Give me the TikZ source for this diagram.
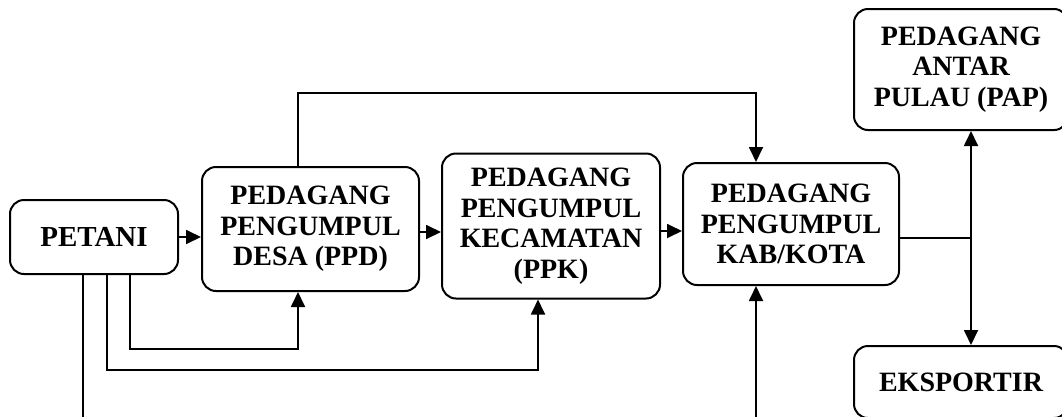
\documentclass[tikz,border=0pt]{standalone}
\usepackage{fontspec}
\setmainfont{Liberation Serif}
\usetikzlibrary{arrows.meta}
\begin{document}
\begin{tikzpicture}[x=1pt,y=-1pt,
  box/.style={draw,line width=2pt,rounded corners=14pt,align=center,inner sep=0pt,
    font=\fontsize{28}{30.5}\selectfont\bfseries},
  conn/.style={line width=1.8pt},
  arr/.style={conn,-{Triangle[length=15pt,width=14pt]}}]
\useasboundingbox (0,0) rectangle (1062,416);
\clip (0,0) rectangle (1062,416);
\node[box,minimum width=168pt,minimum height=74pt,font=\fontsize{29}{32}\selectfont\bfseries] (pet) at (94,237) {PETANI};
\node[box,minimum width=217pt,minimum height=124pt] (ppd) at (310.5,229) {PEDAGANG\\PENGUMPUL\\DESA (PPD)};
\node[box,minimum width=218pt,minimum height=145pt] (ppk) at (551,226) {PEDAGANG\\PENGUMPUL\\KECAMATAN\\(PPK)};
\node[box,minimum width=216pt,minimum height=122pt] (kab) at (791,224) {PEDAGANG\\PENGUMPUL\\KAB/KOTA};
\node[box,minimum width=214pt,minimum height=121pt] (pap) at (961,69.5) {PEDAGANG\\ANTAR\\PULAU (PAP)};
\node[box,minimum width=214pt,minimum height=72pt] (eks) at (961,382) {EKSPORTIR};
\coordinate (j) at (971,238);
\draw[arr] (pet.east) -- (pet.east -| ppd.west);
\draw[arr] (ppd.east |- 0,232) -- (ppk.west |- 0,232);
\draw[arr] (ppk.east |- 0,231) -- (kab.west |- 0,231);
\draw[arr] (298,0 |- ppd.north) -- (298,93) -| (756,0 |- kab.north);
\draw[arr] (130,0 |- pet.south) |- (298,349) -- (298,0 |- ppd.south);
\draw[arr] (107,0 |- pet.south) |- (538,370) -- (538,0 |- ppk.south);
\draw[arr] (83,0 |- pet.south) |- (756,440) -- (756,0 |- kab.south);
\draw[conn] (kab.east |- j) -- (j);
\draw[arr] (j) -- (j |- pap.south);
\draw[arr] (j) -- (j |- eks.north);
\end{tikzpicture}
\end{document}
